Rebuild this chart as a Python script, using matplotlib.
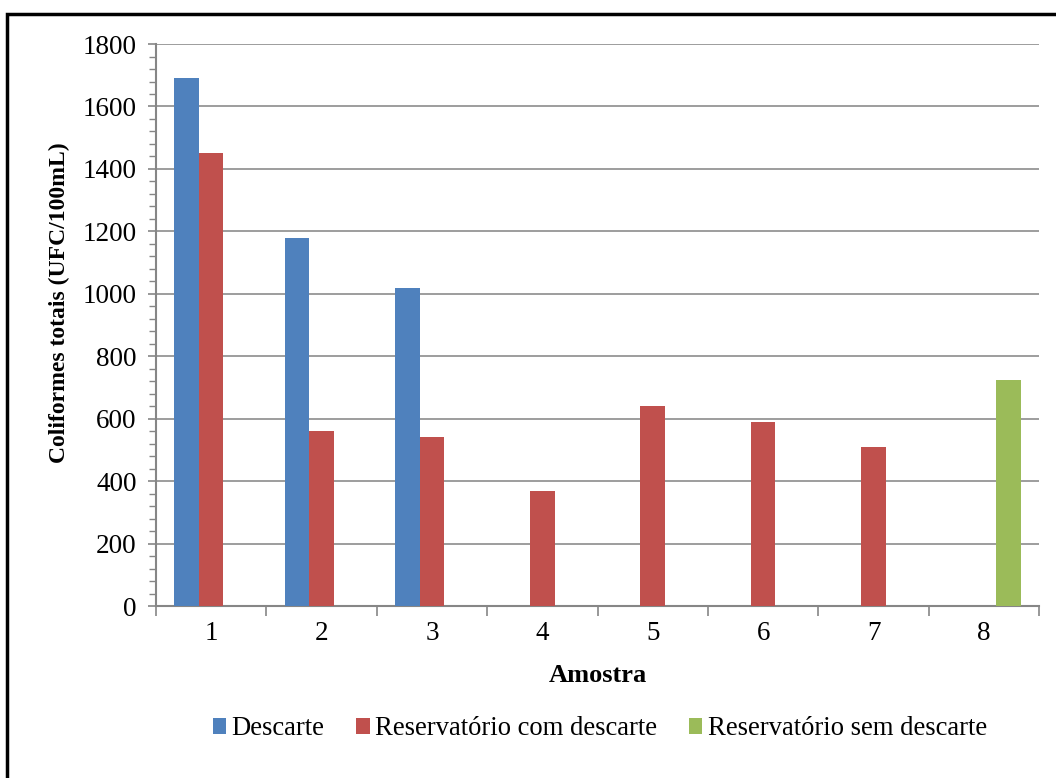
import numpy as np
import matplotlib.pyplot as plt
from matplotlib.patches import Rectangle
from matplotlib.ticker import MultipleLocator

plt.rcParams['font.family'] = ['Liberation Serif', 'DejaVu Serif']

amostras = ['1', '2', '3', '4', '5', '6', '7', '8']
descarte = [1690, 1180, 1020, 0, 0, 0, 0, 0]
reserv_com = [1450, 560, 540, 370, 640, 590, 510, 0]
reserv_sem = [0, 0, 0, 0, 0, 0, 0, 723]

series = [
    ('Descarte', descarte, '#4F81BD'),
    ('Reservatório com descarte', reserv_com, '#C0504D'),
    ('Reservatório sem descarte', reserv_sem, '#9BBB59'),
]

fig = plt.figure(figsize=(10.56, 7.78), dpi=100)
ax = fig.add_axes([0.1477, 0.221, 0.8363, 0.7224])

x = np.arange(len(amostras))
w = 0.222
for i, (name, vals, col) in enumerate(series):
    ax.bar(x + (i - 1) * w, vals, width=w, color=col, label=name, zorder=3)

ax.set_xlim(-0.5, len(amostras) - 0.5)
ax.set_ylim(0, 1800)
ax.yaxis.set_major_locator(MultipleLocator(200))
ax.yaxis.set_minor_locator(MultipleLocator(40))
ax.set_xticks(x)
ax.set_xticklabels(amostras)
ax.set_xticks(np.arange(-0.5, len(amostras)), minor=True)

ax.grid(axis='y', which='major', color='#8C8C8C', linewidth=1.2, zorder=0)
for s in ['top', 'right']:
    ax.spines[s].set_visible(False)
for s in ['left', 'bottom']:
    ax.spines[s].set_color('#868686')
    ax.spines[s].set_linewidth(1.5)

ax.tick_params(axis='y', which='major', direction='out', length=6, color='#868686',
               width=1.2, labelsize=19.5, pad=8)
ax.tick_params(axis='y', which='minor', direction='out', length=5, color='#868686', width=1)
ax.tick_params(axis='x', which='major', length=0, labelsize=19.5, pad=11)
ax.tick_params(axis='x', which='minor', direction='out', length=7, color='#868686', width=1.2)

ax.set_ylabel('Coliformes totais (UFC/100mL)', fontsize=17, fontweight='bold')
ax.yaxis.set_label_coords(-0.097, 0.54)
ax.set_xlabel('Amostra', fontsize=19, fontweight='bold', labelpad=13)

leg = fig.legend(loc='center', bbox_to_anchor=(0.568, 0.063), ncol=3, frameon=False,
                 fontsize=19.2, handlelength=0.5, handleheight=0.5, handletextpad=0.2,
                 columnspacing=1.2)

fig.patches.append(Rectangle((7 / 1056, -0.1), 1.2, 1 - 14 / 778 + 0.1,
                             transform=fig.transFigure, fill=False,
                             edgecolor='black', linewidth=2.5))

fig.savefig('out.png', dpi=100)
